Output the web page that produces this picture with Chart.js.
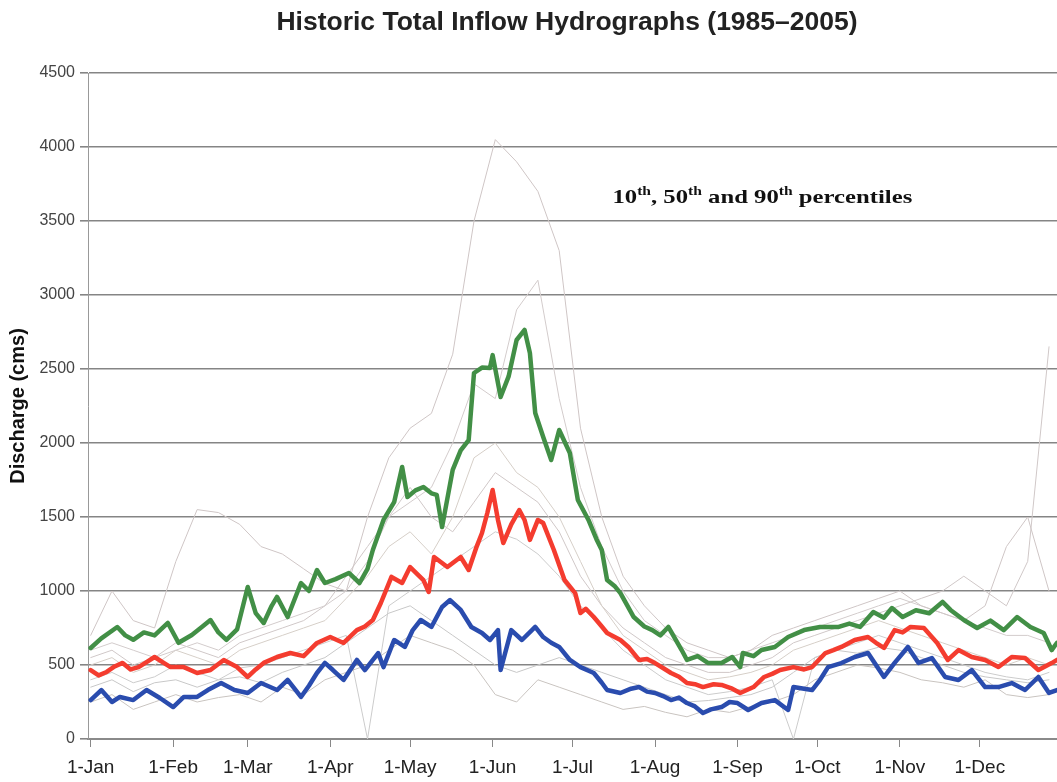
<!DOCTYPE html>
<html>
<head>
<meta charset="utf-8">
<script src="https://cdn.jsdelivr.net/npm/chart.js@4/dist/chart.umd.min.js"></script>
<style>
  html, body { margin: 0; padding: 0; background: #ffffff; }
  #wrap { width: 1057px; height: 782px; }
</style>
</head>
<body>
<div id="wrap"><canvas id="c" width="1057" height="782"></canvas></div>
<script>
// ---- Data ----
const chartTitle = 'Historic Total Inflow Hydrographs (1985\u20132005)';
const yAxisTitle = 'Discharge (cms)';
const monthDays = [0, 31, 59, 90, 120, 151, 181, 212, 243, 273, 304, 334];
const monthLabels = ['1-Jan','1-Feb','1-Mar','1-Apr','1-May','1-Jun','1-Jul','1-Aug','1-Sep','1-Oct','1-Nov','1-Dec'];
const yTicks = [0, 500, 1000, 1500, 2000, 2500, 3000, 3500, 4000, 4500];

// 90th percentile (green)
const p90Days = [0,4,10,13,16,20,24,29,33,38,42,45,48,51,55,59,62,65,68,70,74,79,82,85,88,92,97,101,104,106,110,114,117,119,122,125,128,130,132,136,139,142,144,147,150,151,154,157,160,163,165,167,170,173,176,180,183,187,190,192,194,197,199,204,208,211,214,217,222,224,228,232,237,241,244,245,249,252,257,262,268,274,281,285,289,294,298,301,305,310,315,320,323,328,333,338,343,348,353,358,361,363];
const p90Vals = [615,680,757,700,670,720,700,784,650,703,760,804,720,670,740,1027,850,784,900,960,824,1054,1000,1142,1054,1080,1122,1054,1150,1277,1480,1600,1838,1635,1680,1703,1660,1650,1432,1818,1950,2020,2473,2510,2507,2594,2311,2450,2696,2764,2608,2203,2040,1885,2088,1932,1615,1480,1350,1277,1074,1030,986,824,760,736,700,757,601,534,560,513,513,554,486,581,560,601,622,689,736,757,757,780,757,858,820,885,824,870,850,926,872,804,750,800,736,824,757,716,601,650];

// 50th percentile (red)
const p50Days = [0,3,6,9,12,15,18,21,24,27,30,35,40,45,50,55,59,62,65,70,75,80,85,90,95,100,103,106,109,113,117,120,125,127,129,134,139,142,145,147,149,151,153,155,158,161,163,165,168,170,174,178,182,184,186,189,192,194,199,202,206,209,212,215,218,221,224,227,230,234,237,241,244,249,253,256,259,264,268,271,276,279,282,287,292,295,298,302,305,308,313,318,322,326,331,336,341,346,351,356,361,363];
const p50Vals = [466,430,453,490,514,470,486,520,554,520,486,486,446,466,534,486,419,470,514,554,581,560,649,689,649,736,760,804,919,1095,1054,1162,1074,993,1230,1162,1230,1142,1300,1392,1527,1682,1480,1324,1450,1547,1480,1345,1480,1459,1277,1074,986,851,880,824,760,716,669,622,534,540,513,480,446,420,378,370,351,370,365,340,311,351,419,440,466,486,470,486,581,600,622,669,689,650,615,736,720,757,750,649,534,601,554,534,486,554,547,466,513,534];

// 10th percentile (blue)
const p10Days = [0,4,8,11,16,21,26,31,35,40,44,49,54,59,64,70,74,79,82,85,88,91,95,100,103,108,110,114,118,121,124,128,132,135,139,143,147,150,153,154,158,162,167,170,173,176,180,184,189,192,194,199,203,206,209,212,215,218,221,224,227,230,233,237,240,243,247,252,257,262,264,268,271,274,277,282,287,292,295,298,302,307,311,316,321,326,331,336,341,346,351,356,360,363];
const p10Vals = [263,331,250,284,263,331,277,216,284,284,331,378,331,311,378,331,399,284,360,446,514,466,399,534,466,581,486,669,622,736,804,757,892,939,872,757,716,669,736,466,736,669,757,689,650,622,534,486,446,380,331,311,340,351,320,311,290,263,280,243,220,176,200,216,250,243,196,243,263,196,351,340,331,400,486,513,554,581,500,419,514,622,514,547,419,399,466,351,351,378,331,419,311,331];

// Individual years (thin grey lines), sampled every 8 days
const yearDays = [0,8,16,24,32,40,48,56,64,72,80,88,96,104,112,120,128,136,144,152,160,168,176,184,192,200,208,216,224,232,240,248,256,264,272,280,288,296,304,312,320,328,336,344,352,360];
const yearA = [700,1000,800,750,1200,1550,1530,1450,1300,1250,1150,1050,1000,1500,1900,2100,2200,2600,3500,4050,3900,3700,3300,2100,1500,1100,900,750,650,600,550,600,700,750,800,850,900,950,1000,900,850,800,900,1300,1500,1000];
const yearB = [600,650,600,550,600,650,600,700,750,800,850,900,1000,1200,1500,1600,1700,2000,2400,2300,2900,3100,2300,1700,1300,1000,800,700,600,550,550,600,650,700,750,800,850,900,950,900,850,800,750,700,700,650];
const yearC = [250,300,200,250,300,250,280,300,250,350,300,400,450,500,600,700,650,600,500,300,250,400,350,300,250,200,220,180,150,200,180,220,250,300,400,450,500,480,450,400,380,350,400,300,280,300];
const yearD = [500,550,450,500,600,550,500,600,650,700,750,800,950,1100,1300,1400,1250,1500,1900,2000,1800,1700,1500,1200,900,700,600,500,450,400,420,450,500,600,650,700,750,800,750,700,650,600,550,500,550,500];
const yearE = [400,450,380,420,500,450,400,480,500,550,600,650,700,0,900,1000,1100,1200,1300,1400,1350,1250,1100,900,750,600,500,400,350,300,320,350,400,0,550,600,650,700,650,600,550,500,450,420,400,450];
const yearF = [550,600,500,550,650,600,550,650,700,750,800,900,1100,1300,1500,1700,1500,1400,1600,1800,1700,1600,1400,1100,900,750,650,550,500,450,450,500,550,650,700,750,800,850,900,950,1000,1100,1000,900,1200,2650];
const yearG = [350,400,320,380,400,350,400,420,380,450,500,550,650,750,850,900,800,700,600,500,450,500,550,500,450,400,350,300,250,260,280,300,350,450,550,600,580,620,600,550,500,450,420,400,380,400];

const annotParts = [['10',false],['th',true],[', 50',false],['th',true],[' and 90',false],['th',true],[' percentiles',false]];
const annotAt = { x: 196, y: 3620 };

// ---- Build datasets ----
function pts(xs, ys) { return xs.map((x, i) => ({ x: x, y: ys[i] })); }
const greyColors = ['#cfc6c6', '#d3cccc', '#c9c4c0', '#d6cfc8', '#cccccc', '#d0c8c8', '#c8c8c8'];
const greyYears = [yearA, yearB, yearC, yearD, yearE, yearF, yearG];

const datasets = [
  { label: '10th', data: pts(p10Days, p10Vals), borderColor: '#2a4cae', borderWidth: 4.5, order: 1 },
  { label: '50th', data: pts(p50Days, p50Vals), borderColor: '#f43c2f', borderWidth: 4.5, order: 2 },
  { label: '90th', data: pts(p90Days, p90Vals), borderColor: '#428f46', borderWidth: 4.5, order: 3 }
];
greyYears.forEach((arr, i) => {
  datasets.push({ label: 'year' + i, data: pts(yearDays, arr), borderColor: greyColors[i], borderWidth: 1, order: 10 + i });
});

const textPlugin = {
  id: 'textPlugin',
  afterDraw(chart) {
    const ctx = chart.ctx;
    ctx.save();
    // Title
    ctx.fillStyle = '#222';
    ctx.font = 'bold 26.5px "Liberation Sans", Arial, sans-serif';
    ctx.textAlign = 'center';
    ctx.textBaseline = 'middle';
    ctx.fillText(chartTitle, 567, 23);
    // Annotation (slightly widened, as in the reference)
    const x0 = chart.scales.x.getPixelForValue(annotAt.x);
    const y = chart.scales.y.getPixelForValue(annotAt.y);
    ctx.translate(x0, y);
    ctx.scale(1.3, 1);
    let x = 0;
    ctx.textAlign = 'left';
    ctx.textBaseline = 'alphabetic';
    ctx.fillStyle = '#111';
    annotParts.forEach(([t, sup]) => {
      ctx.font = sup ? 'bold 12px "Liberation Serif", serif' : 'bold 19px "Liberation Serif", serif';
      ctx.fillText(t, x, sup ? -8 : 0);
      x += ctx.measureText(t).width;
    });
    ctx.restore();
  }
};

new Chart(document.getElementById('c'), {
  type: 'line',
  data: { datasets: datasets },
  options: {
    responsive: false,
    animation: false,
    devicePixelRatio: 1,
    layout: { padding: { top: 73, left: 0, right: 0, bottom: 0 } },
    elements: { point: { radius: 0 }, line: { tension: 0, borderJoinStyle: 'round', borderCapStyle: 'round' } },
    plugins: { legend: { display: false }, tooltip: { enabled: false }, title: { display: false } },
    scales: {
      x: {
        type: 'linear', min: -1, max: 363,
        afterBuildTicks: (s) => { s.ticks = monthDays.map(v => ({ value: v })); },
        afterFit: (s) => { s.height = 43; },
        ticks: {
          autoSkip: false, maxRotation: 0, minRotation: 0, padding: 9,
          color: '#222', font: { family: '"Liberation Sans", Arial, sans-serif', size: 19 },
          callback: (v) => monthLabels[monthDays.indexOf(v)]
        },
        grid: { drawOnChartArea: false, drawTicks: true, tickLength: 8, color: '#888', lineWidth: 1 },
        border: { display: true, color: '#8a8a8a', width: 2 }
      },
      y: {
        min: 0, max: 4500,
        afterBuildTicks: (s) => { s.ticks = yTicks.map(v => ({ value: v })); },
        afterFit: (s) => { s.width = 88; },
        ticks: {
          padding: 5, color: '#444',
          font: { family: '"Liberation Sans", Arial, sans-serif', size: 16 },
          callback: (v) => String(v)
        },
        grid: { color: '#858585', lineWidth: 1.6, tickLength: 8, drawTicks: true },
        border: { display: true, color: '#999', width: 1 },
        title: {
          display: true, text: yAxisTitle, color: '#111',
          font: { family: '"Liberation Sans", Arial, sans-serif', size: 20, weight: 'bold' },
          padding: { top: 6, bottom: 0 }
        }
      }
    }
  },
  plugins: [textPlugin]
});
</script>
</body>
</html>
